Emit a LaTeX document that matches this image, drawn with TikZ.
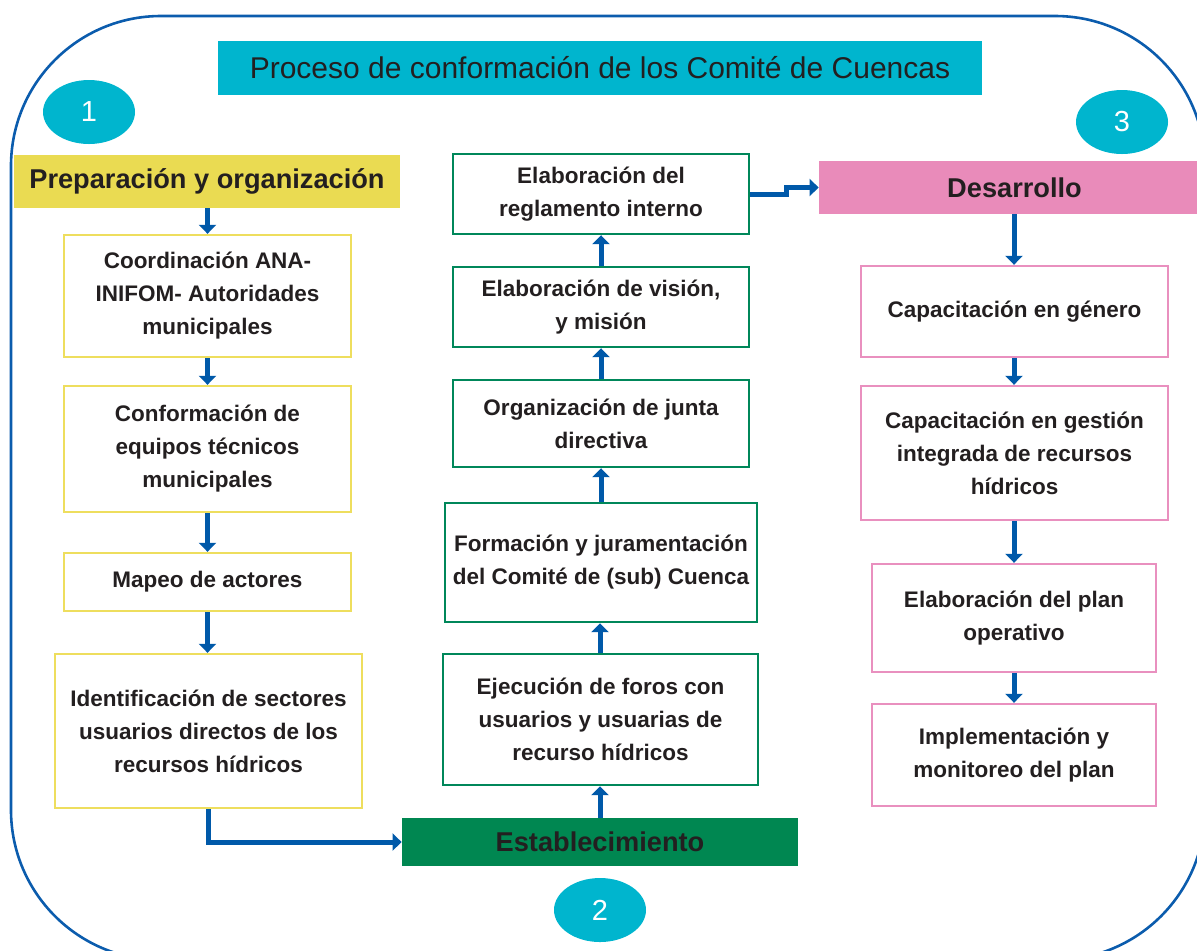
\documentclass[tikz,border=0pt]{standalone}
\usepackage{fontspec}
\setmainfont{Liberation Sans}
\usetikzlibrary{arrows.meta,positioning,shapes.geometric}
\usepackage{xcolor}
\definecolor{ink}{HTML}{231F20}
\definecolor{teal}{HTML}{00B5CE}
\definecolor{frame}{HTML}{0B5CAD}
\definecolor{flow}{HTML}{0059A9}
\definecolor{lemon}{HTML}{EADB52}
\definecolor{lemonline}{HTML}{EEDE5E}
\definecolor{forest}{HTML}{008751}
\definecolor{forestline}{HTML}{00875A}
\definecolor{blush}{HTML}{E98BBA}
\definecolor{blushline}{HTML}{E990BF}
\newcommand\cellfont{\fontsize{11.25}{16.5}\selectfont\bfseries}
\newcommand\headfont{\fontsize{13.6}{16}\selectfont\bfseries}
\tikzset{
  cell/.style={draw,line width=1.2pt,fill=white,text=ink,align=center,
    inner sep=2pt,font=\cellfont},
  ycell/.style={cell,draw=lemonline},
  gcell/.style={cell,draw=forestline},
  pcell/.style={cell,draw=blushline},
  head/.style={minimum height=26.5pt,inner sep=0pt,text=ink,font=\headfont},
  badge/.style={ellipse,fill=teal,text=white,minimum width=46pt,
    minimum height=32pt,inner sep=0pt,font=\fontsize{14.5}{17}\selectfont},
  fedge/.style={-{Triangle[length=4.5pt,width=8.5pt]},line width=2.5pt,color=flow},
}
\begin{document}
\begin{tikzpicture}[x=0.5pt,y=-0.5pt]
  \useasboundingbox (0,0) rectangle (1197,950);
  % outer frame
  \draw[frame,line width=1.3pt,rounded corners=75pt] (11,16) rectangle (1205,960);
  \node[fill=teal,text=ink,minimum width=382pt,minimum height=27pt,inner sep=0pt,
    font=\fontsize{15}{18}\selectfont] (title) at (600,68)
    {Proceso de conformación de los Comité de Cuencas};
  \node[badge] (b1) at (89,112){1}; \node[badge] (b3) at (1122,122){3};
  \node[badge] (b2) at (600,910){2};
  % 1: preparacion
  \node[head,fill=lemon,minimum width=193pt] (prep) at (207,181.5){Preparación y organización};
  \node[ycell,minimum width=143.5pt,minimum height=61pt] (l1) at (207.5,296)
    {Coordinación ANA-\\INIFOM- Autoridades\\municipales};
  \node[ycell,minimum width=143.5pt,minimum height=63pt] (l2) at (207.5,449)
    {Conformación de\\equipos técnicos\\municipales};
  \node[ycell,minimum width=143.5pt,minimum height=29pt] (l3) at (207.5,582){Mapeo de actores};
  \node[ycell,minimum width=153.5pt,minimum height=77pt] (l4) at (208.5,731)
    {Identificación de sectores\\usuarios directos de los\\recursos hídricos};
  % 2: establecimiento
  \node[head,fill=forest,minimum width=198pt,minimum height=24pt] (est) at (600,842){Establecimiento};
  \node[gcell,minimum width=157.5pt,minimum height=65.5pt] (m1) at (600.5,719.5)
    {Ejecución de foros con\\usuarios y usuarias de\\recurso hídricos};
  \node[gcell,minimum width=156pt,minimum height=59.5pt] (m2) at (601,562.5)
    {Formación y juramentación\\del Comité de (sub) Cuenca};
  \node[gcell,minimum width=148pt,minimum height=43.5pt] (m3) at (601,423.5)
    {Organización de junta\\directiva};
  \node[gcell,minimum width=148pt,minimum height=40pt] (m4) at (601,307)
    {Elaboración de visión,\\y misión};
  \node[gcell,minimum width=148pt,minimum height=40pt] (m5) at (601,194)
    {Elaboración del\\reglamento interno};
  % 3: desarrollo
  \node[head,fill=blush,minimum width=195.5pt] (des) at (1014.5,187.5){Desarrollo};
  \node[pcell,minimum width=153.5pt,minimum height=45.5pt] (r1) at (1014.5,311.5)
    {Capacitación en género};
  \node[pcell,minimum width=153.5pt,minimum height=67pt] (r2) at (1014.5,453)
    {Capacitación en gestión\\integrada de recursos\\hídricos};
  \node[pcell,minimum width=142pt,minimum height=54pt] (r3) at (1014,618)
    {Elaboración del plan\\operativo};
  \node[pcell,minimum width=142pt,minimum height=51pt] (r4) at (1014,755)
    {Implementación y\\monitoreo del plan};
  % arrows
  \draw[fedge] (prep.south -| l1.north) -- (l1.north);
  \draw[fedge] (l1) -- (l2); \draw[fedge] (l2) -- (l3);
  \draw[fedge] (l3.south) -- (l3.south |- l4.north);
  \draw[fedge] (l4.south) |- (est.west);
  \draw[fedge] (est.north) -- (est.north |- m1.south);
  \draw[fedge] (est.north |- m1.north) -- (est.north |- m2.south);
  \draw[fedge] (m2) -- (m3); \draw[fedge] (m3) -- (m4); \draw[fedge] (m4) -- (m5);
  \draw[fedge] (m5.east) -- ++(18pt,0) |- (des.west);
  \draw[fedge] (des.south -| r3.north) -- (r3.north |- r1.north);
  \draw[fedge] (r3.north |- r1.south) -- (r3.north |- r2.north);
  \draw[fedge] (r3.north |- r2.south) -- (r3.north);
  \draw[fedge] (r3) -- (r4);
\end{tikzpicture}
\end{document}
